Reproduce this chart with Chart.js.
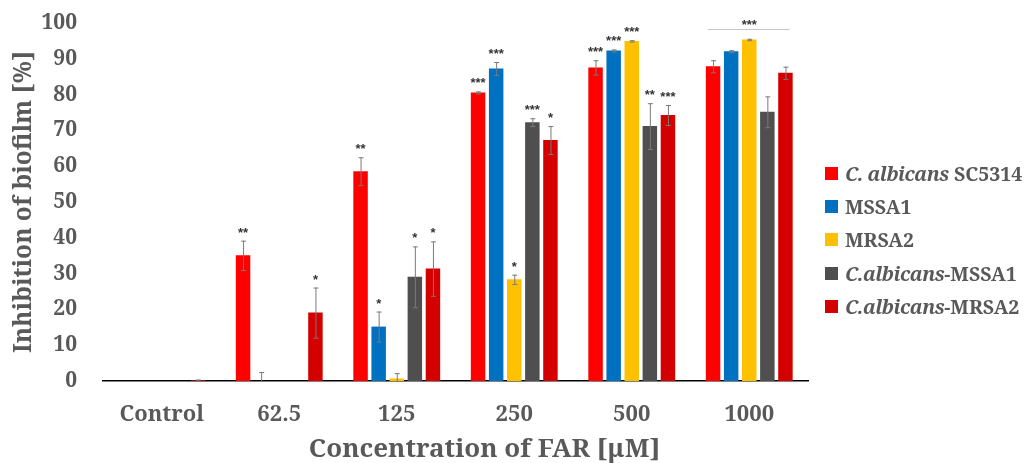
<!DOCTYPE html>
<html>
<head>
<meta charset="utf-8">
<script src="https://cdn.jsdelivr.net/npm/chart.js@4/dist/chart.umd.min.js"></script>
<style>
  body { margin: 0; background: #fff; }
  #wrap { position: relative; width: 1026px; height: 463px; }
  #legend { position: absolute; left: 825px; top: 157px; font-family: "Noto Serif", "Liberation Serif", serif; font-weight: bold; font-size: 19.5px; color: #595959; }
  #legend i { letter-spacing: -0.5px; }
  .item { height: 33.2px; display: flex; align-items: center; white-space: nowrap; }
  .sw { width: 13px; height: 13px; margin-right: 7px; flex: none; }
</style>
</head>
<body>
<div id="wrap">
  <canvas id="chart" width="1026" height="463"></canvas>
  <div id="legend"></div>
</div>
<script>
// --- DATA ---
const categories = ["Control", "62.5", "125", "250", "500", "1000"];
const seriesNames = ["C. albicans SC5314", "MSSA1", "MRSA2", "C.albicans-MSSA1", "C.albicans-MRSA2"];
const seriesColors = ["#ff0000", "#0070c0", "#ffc000", "#4f4f4f", "#d40000"];

const albicansSC5314 = [0, 35.1, 58.6, 80.6, 87.6, 87.9];
const mssa1 = [0, 0, 15.2, 87.3, 92.3, 92.1];
const mrsa2 = [0, 0, 0.7, 28.4, 95.0, 95.4];
const albMssa1 = [0, 0, 29.1, 72.3, 71.2, 75.2];
const albMrsa2 = [0.2, 19.1, 31.4, 67.3, 74.3, 86.1];

const errSC5314 = [0, 4.1, 3.9, 0.3, 2.0, 1.7];
const errMssa1 = [0, 2.5, 4.2, 1.8, 0.3, 0.3];
const errMrsa2 = [0, 0, 1.5, 1.3, 0.2, 0.2];
const errAlbMssa1 = [0, 0, 8.5, 1.1, 6.4, 4.3];
const errAlbMrsa2 = [0.2, 7.0, 7.6, 3.9, 2.8, 1.7];

const sigSC5314 = ["", "**", "**", "***", "***", ""];
const sigMssa1 = ["", "", "*", "***", "***", ""];
const sigMrsa2 = ["", "", "", "*", "***", ""];
const sigAlbMssa1 = ["", "", "*", "***", "**", ""];
const sigAlbMrsa2 = ["", "*", "*", "*", "***", ""];
const groupSig = ["", "", "", "", "", "***"];

const yTicks = [0, 10, 20, 30, 40, 50, 60, 70, 80, 90, 100];
const xTitle = "Concentration of FAR [μM]";

const values = [albicansSC5314, mssa1, mrsa2, albMssa1, albMrsa2];
const errors = [errSC5314, errMssa1, errMrsa2, errAlbMssa1, errAlbMrsa2];
const sigs = [sigSC5314, sigMssa1, sigMrsa2, sigAlbMssa1, sigAlbMrsa2];

const serif = '"Noto Serif", "Liberation Serif", serif';
const grey = "#595959";

// error bars, asterisks, x title (sits a bit right of centre in the original)
const extras = {
    id: "extras",
    afterDatasetsDraw(chart) {
        const ctx = chart.ctx;
        const ys = chart.scales.y;
        const tops = [];
        ctx.save();
        chart.data.datasets.forEach((ds, i) => {
            const meta = chart.getDatasetMeta(i);
            meta.data.forEach((bar, j) => {
                const v = ds.data[j], e = errors[i][j];
                const yTop = ys.getPixelForValue(v + e);
                if (!tops[j]) tops[j] = { min: yTop, left: bar.x, right: bar.x, w: bar.width };
                tops[j].min = Math.min(tops[j].min, yTop);
                tops[j].left = Math.min(tops[j].left, bar.x);
                tops[j].right = Math.max(tops[j].right, bar.x);
                if (e > 0) {
                    const yBot = ys.getPixelForValue(Math.max(0, v - e));
                    ctx.strokeStyle = "#7a7a7a";
                    ctx.lineWidth = 1;
                    ctx.beginPath();
                    ctx.moveTo(bar.x + 0.5, yTop); ctx.lineTo(bar.x + 0.5, yBot);
                    ctx.moveTo(bar.x - 2, yTop + 0.5); ctx.lineTo(bar.x + 3, yTop + 0.5);
                    ctx.moveTo(bar.x - 2, yBot + 0.5); ctx.lineTo(bar.x + 3, yBot + 0.5);
                    ctx.stroke();
                }
                const s = sigs[i][j];
                if (s) {
                    ctx.fillStyle = "#333";
                    ctx.font = 'bold 13px "Liberation Sans", sans-serif';
                    ctx.textAlign = "center";
                    ctx.textBaseline = "alphabetic";
                    ctx.fillText(s, bar.x, yTop - 4);
                }
            });
        });
        groupSig.forEach((s, j) => {
            if (!s) return;
            const t = tops[j];
            const ly = Math.round(t.min - 10) + 0.5;
            ctx.strokeStyle = "#c8c8c8";
            ctx.lineWidth = 1;
            ctx.beginPath();
            ctx.moveTo(t.left - t.w / 2 + 2, ly);
            ctx.lineTo(t.right + t.w / 2 - 3, ly);
            ctx.stroke();
            ctx.fillStyle = "#333";
            ctx.font = 'bold 13px "Liberation Sans", sans-serif';
            ctx.textAlign = "center";
            ctx.fillText(s, (t.left + t.right) / 2, ly - 1);
        });

        const area = chart.chartArea;
        ctx.fillStyle = grey;
        ctx.font = "bold 26px " + serif;
        ctx.textAlign = "center";
        ctx.textBaseline = "alphabetic";
        ctx.fillText(xTitle, (area.left + area.right) / 2 + 29, 457);
        ctx.restore();
    }
};

const chart = new Chart(document.getElementById("chart"), {
    type: "bar",
    data: {
        labels: categories,
        datasets: seriesNames.map((name, i) => ({
            label: name,
            data: values[i],
            backgroundColor: seriesColors[i],
            borderWidth: 0,
            categoryPercentage: 0.77,
            barPercentage: 0.8
        }))
    },
    options: {
        responsive: false,
        animation: false,
        devicePixelRatio: 1,
        layout: { padding: { top: 23, right: 218, left: 0, bottom: 0 } },
        plugins: { legend: { display: false }, tooltip: { enabled: false } },
        scales: {
            x: {
                grid: { display: false, drawTicks: false },
                border: { display: true, color: "#000", width: 1.5 },
                ticks: { color: grey, padding: 21, font: { family: serif, weight: "bold", size: 22 } },
                afterFit: s => { s.height = 82; }
            },
            y: {
                min: 0, max: 100,
                afterBuildTicks: s => { s.ticks = yTicks.map(v => ({ value: v })); },
                grid: { display: false, drawTicks: false },
                border: { display: false },
                ticks: { color: grey, padding: 26, font: { family: serif, weight: "bold", size: 21 } },
                title: { display: true, text: "Inhibition of biofilm [%]", color: grey, padding: { top: 9, bottom: 0 }, font: { family: serif, weight: "bold", size: 24.5 } },
                afterFit: s => { s.width = 103; s.paddingTop = 13; s.paddingBottom = 13; }
            }
        }
    },
    plugins: [extras]
});

// HTML legend (italic species names)
const legend = document.getElementById("legend");
seriesNames.forEach((name, i) => {
    const row = document.createElement("div");
    row.className = "item";
    let html = name;
    if (name.startsWith("C. albicans")) html = "<i>C. albicans</i>" + name.slice(11);
    else if (name.startsWith("C.albicans")) html = "<i>C.albicans</i>" + name.slice(10);
    row.innerHTML = `<span class="sw" style="background:${seriesColors[i]}"></span><span>${html}</span>`;
    legend.appendChild(row);
});
</script>
</body>
</html>
